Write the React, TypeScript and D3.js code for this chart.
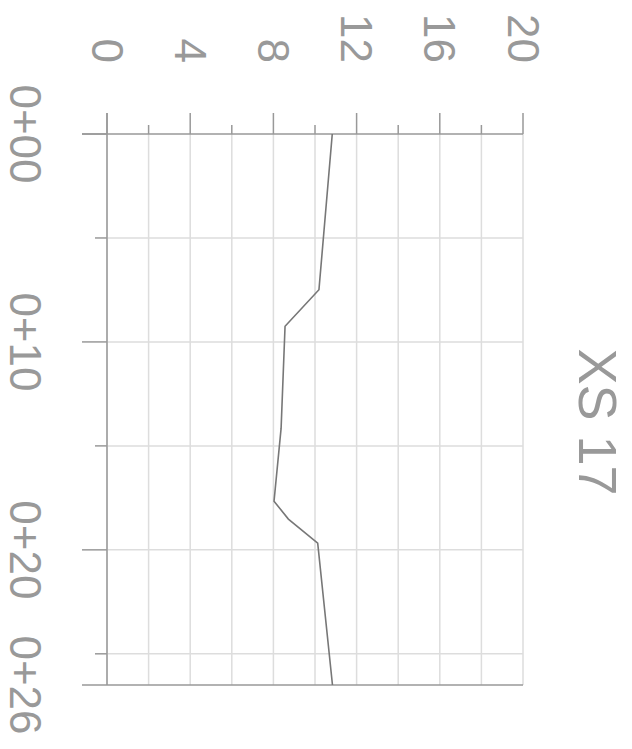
import React from "react";
import * as d3 from "d3";

const title = "XS 17";
const stations = [0, 7.49, 9.25, 14.16, 17.66, 18.52, 19.68, 26.5];
const elevations = [10.83, 10.19, 8.56, 8.37, 8.03, 8.72, 10.13, 10.84];
const elevMajorTicks = [0, 4, 8, 12, 16, 20];
const elevMinorTicks = [2, 6, 10, 14, 18];
const elevGrid = [0, 2, 4, 6, 8, 10, 12, 14, 16, 18, 20];
const stationMajorTicks = [0, 10, 20];
const stationMinorTicks = [5, 15, 25];
const stationLabels = [0, 10, 20, 26.5];
const elevDomain = [0, 20];
const stationDomain = [0, 26.5];

const fmtStation = (s: number) => {
  const v = Math.floor(s);
  const h = Math.floor(v / 100);
  const r = v % 100;
  return `${h}+${r < 10 ? "0" + r : r}`;
};

export default function App() {
  const W = 632, H = 749;
  const x = d3.scaleLinear().domain(elevDomain).range([107, 523]);
  const y = d3.scaleLinear().domain(stationDomain).range([134, 685]);
  const line = d3
    .line<number>()
    .x((_, i) => x(elevations[i]))
    .y((s) => y(s));
  const axisColor = "#999";
  const gridColor = "#ddd";
  const textColor = "#999";
  const font = "Liberation Sans, Arial, sans-serif";
  const top = y(stationDomain[0]);
  const bottom = y(stationDomain[1]);
  const left = x(elevDomain[0]);
  const right = x(elevDomain[1]);

  return (
    <svg
      width={W}
      height={H}
      style={{ position: "absolute", left: 0, top: 0, background: "#fff" }}
    >
      {/* vertical grid (elevation) */}
      {elevGrid.map((e) => (
        <line key={"ge" + e} x1={x(e)} x2={x(e)} y1={top} y2={bottom} stroke={gridColor} strokeWidth={1.5} />
      ))}
      {/* horizontal grid (station) */}
      {[...stationMajorTicks, ...stationMinorTicks].filter((s) => s > 0).map((s) => (
        <line key={"gs" + s} x1={left} x2={right} y1={y(s)} y2={y(s)} stroke={gridColor} strokeWidth={1.5} />
      ))}
      {/* top axis (elevation) */}
      <line x1={82} x2={right} y1={top} y2={top} stroke={axisColor} strokeWidth={1.5} />
      {elevMajorTicks.map((e) => (
        <line key={"tm" + e} x1={x(e)} x2={x(e)} y1={top - 21} y2={top} stroke={axisColor} strokeWidth={1.5} />
      ))}
      {elevMinorTicks.map((e) => (
        <line key={"tn" + e} x1={x(e)} x2={x(e)} y1={top - 9} y2={top} stroke={axisColor} strokeWidth={1.5} />
      ))}
      {elevMajorTicks.map((e) => (
        <text
          key={"tl" + e}
          transform={`translate(${x(e)},63) rotate(90)`}
          textAnchor="end"
          dominantBaseline="central"
          fill={textColor}
          fontFamily={font}
          fontSize={44}
        >
          {e}
        </text>
      ))}
      {/* left axis (station) */}
      <line x1={left} x2={left} y1={top - 21} y2={bottom} stroke={axisColor} strokeWidth={1.5} />
      <line x1={82} x2={right} y1={bottom} y2={bottom} stroke={axisColor} strokeWidth={1.5} />
      {stationMajorTicks.map((s) => (
        <line key={"sm" + s} x1={82} x2={left} y1={y(s)} y2={y(s)} stroke={axisColor} strokeWidth={1.5} />
      ))}
      {stationMinorTicks.map((s) => (
        <line key={"sn" + s} x1={95} x2={left} y1={y(s)} y2={y(s)} stroke={axisColor} strokeWidth={1.5} />
      ))}
      {stationLabels.map((s) => (
        <text
          key={"sl" + s}
          transform={`translate(25,${y(s)}) rotate(90)`}
          textAnchor="middle"
          dominantBaseline="central"
          fill={textColor}
          fontFamily={font}
          fontSize={44}
        >
          {fmtStation(s)}
        </text>
      ))}
      {/* data line */}
      <path d={line(stations) || ""} fill="none" stroke="#777" strokeWidth={1.6} />
      {/* title */}
      <text
        transform={`translate(598,422) rotate(90)`}
        textAnchor="middle"
        dominantBaseline="central"
        fill={textColor}
        fontFamily={font}
        fontSize={54}
      >
        {title}
      </text>
    </svg>
  );
}
